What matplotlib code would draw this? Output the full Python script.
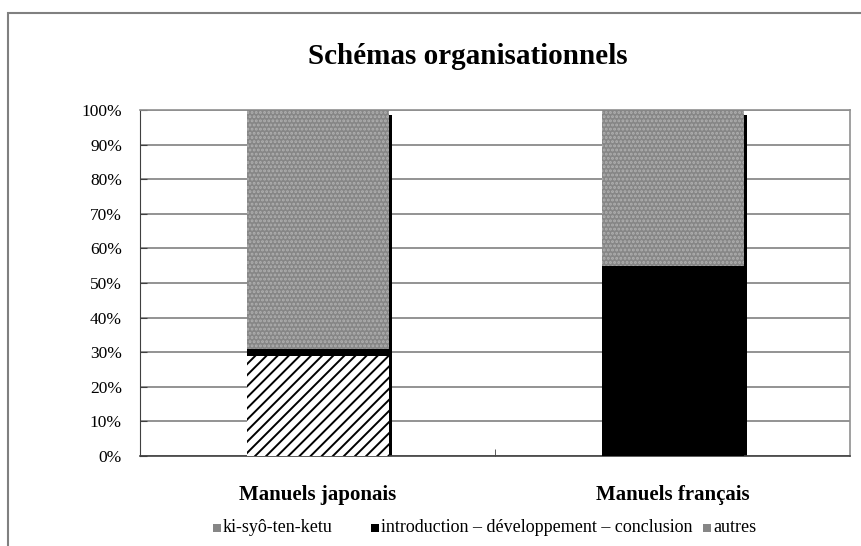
import matplotlib
matplotlib.use("Agg")
import matplotlib.pyplot as plt
from matplotlib.patches import Rectangle
import numpy as np

plt.rcParams['font.family'] = ['Liberation Serif', 'DejaVu Serif']
plt.rcParams['hatch.linewidth'] = 1.4

title = "Schémas organisationnels"
categories = ["Manuels japonais", "Manuels français"]
series_names = ["ki-syô-ten-ketu", "introduction – développement – conclusion", "autres"]
ki_syo = [29, 0]
intro_dev = [2, 55]
autres = [69, 45]
y_ticks = [0, 10, 20, 30, 40, 50, 60, 70, 80, 90, 100]

fig = plt.figure(figsize=(8.61, 5.46), dpi=100)
# outer frame
fig.patches.append(Rectangle((8/861, -0.2), 1.2, 1 - 13/546 + 0.2, transform=fig.transFigure,
                             fill=False, edgecolor='#808080', linewidth=1.5))

ax = fig.add_axes([140/861, 1 - 456/546, 710/861, 346/546])
x = np.arange(len(categories))
w = 0.4
grey = '#868686'

# drop shadows
totals = np.array(ki_syo) + np.array(intro_dev) + np.array(autres)
ax.bar(x + 0.009, totals - 1.5, w, color='black', zorder=2)

b0 = np.zeros(len(categories))
ax.bar(x, ki_syo, w, bottom=b0, facecolor='white', edgecolor='black', hatch='///', linewidth=0, zorder=3)
b1 = b0 + np.array(ki_syo)
ax.bar(x, intro_dev, w, bottom=b1, color='black', linewidth=0, zorder=3)
b2 = b1 + np.array(intro_dev)
ax.bar(x, autres, w, bottom=b2, facecolor=grey, edgecolor='#b0b0b0', hatch='....', linewidth=0, zorder=3)

ax.set_xlim(-0.5, 1.5)
ax.set_ylim(0, 100)
ax.set_yticks(y_ticks)
ax.set_yticklabels([f"{v}%" for v in y_ticks], fontsize=12.5)
ax.yaxis.grid(True, color='#808080', linewidth=1.2)
ax.set_axisbelow(True)
ax.tick_params(axis='y', direction='in', length=5, pad=13, color='#404040')
ax.set_xticks(x)
ax.set_xticklabels(categories, fontsize=15, fontweight='bold')
ax.tick_params(axis='x', length=0, pad=21)
ax.set_xticks([0.5], minor=True)
ax.tick_params(axis='x', which='minor', direction='in', length=5, color='#404040')
for s in ['top', 'right']:
    ax.spines[s].set_color('#909090')
    ax.spines[s].set_linewidth(1.2)
ax.spines['left'].set_color('#404040')
ax.spines['bottom'].set_color('#404040')
ax.spines['bottom'].set_linewidth(1.2)

fig.text(468/861, 1 - 57/546, title, ha='center', va='center', fontsize=21, fontweight='bold')

# legend entries (marker + text)
leg_colors = [grey, 'black', grey]
leg_x = [213, 371, 703]
ly = 1 - 528/546
for name, col, lx in zip(series_names, leg_colors, leg_x):
    fig.patches.append(Rectangle((lx/861, ly - 4/546), 8/861, 8/546, transform=fig.transFigure,
                                 facecolor=col, edgecolor='none'))
    fig.text((lx + 10)/861, ly, name, ha='left', va='center', fontsize=13)

fig.savefig("out.png", dpi=100)
